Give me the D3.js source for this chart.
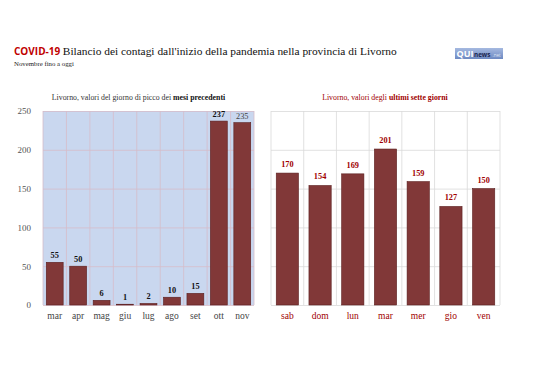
<!DOCTYPE html>
<html><head><meta charset="utf-8">
<script src="https://cdn.jsdelivr.net/npm/d3@7/dist/d3.min.js"></script>
<style>
html,body{margin:0;padding:0;background:#fff;}
svg{display:block;}
</style></head>
<body>
<svg id="chart" width="538" height="380"></svg>
<script>
// ---- data ----
const monthCats = ["mar","apr","mag","giu","lug","ago","set","ott","nov"];
const monthVals = [55, 50, 6, 1, 2, 10, 15, 237, 235];
const dayCats = ["sab","dom","lun","mar","mer","gio","ven"];
const dayVals = [170, 154, 169, 201, 159, 127, 150];
const yTicks = [0, 50, 100, 150, 200, 250];

(function () {
const svg = d3.select("#chart");
const serif = "'Liberation Serif','DejaVu Serif',serif";
const sans = "'Open Sans','Liberation Sans',Arial,sans-serif";
const barFill = "#813838", barStroke = "#5b1e1e";

// ---- title ----
const title = svg.append("text").attr("x", 14).attr("y", 55);
title.append("tspan").text("COVID-19 ")
  .style("font-family", sans).style("font-weight", "bold").style("font-size", "10px").attr("fill", "#c00000");
title.append("tspan").text("Bilancio dei contagi dall'inizio della pandemia nella provincia di Livorno")
  .style("font-family", serif).style("font-size", "11.4px").attr("fill", "#111");
svg.append("text").attr("x", 14).attr("y", 66).text("Novembre fino a oggi")
  .style("font-family", serif).style("font-size", "6.8px").attr("fill", "#222");

// ---- logo ----
const logo = svg.append("g").attr("transform", "translate(455,48)");
const grad = svg.append("defs").append("linearGradient").attr("id", "lg")
  .attr("x1", 0).attr("y1", 0).attr("x2", 0).attr("y2", 1);
grad.append("stop").attr("offset", 0).attr("stop-color", "#a5b9e0");
grad.append("stop").attr("offset", 1).attr("stop-color", "#6d89c2");
logo.append("rect").attr("width", 48).attr("height", 11).attr("fill", "url(#lg)");
logo.append("text").attr("x", 1.5).attr("y", 9.3).text("QUI")
  .style("font-family", sans).style("font-weight", "bold").style("font-size", "9px").attr("fill", "#fff");
logo.append("text").attr("x", 19).attr("y", 8.5).text("news")
  .style("font-family", sans).style("font-weight", "bold").style("font-size", "6.3px").attr("fill", "#1b2550");
logo.append("text").attr("x", 37.5).attr("y", 8.5).text(".net")
  .style("font-family", sans).style("font-size", "4.6px").attr("fill", "#dfe6f5");

// ---- shared scale ----
const yTop = 111, yBot = 305;
const y = d3.scaleLinear().domain([0, 250]).range([yBot, yTop]);

// ---- left panel ----
const L = {x0: 43, x1: 254};
const xL = d3.scaleBand().domain(monthCats).range([L.x0, L.x1]).padding(0);
const gL = svg.append("g");
gL.append("rect").attr("x", L.x0).attr("y", yTop).attr("width", L.x1 - L.x0).attr("height", yBot - yTop)
  .attr("fill", "#c9d7ef");
gL.append("g").attr("transform", `translate(${L.x0},0)`)
  .call(d3.axisLeft(y).tickValues(yTicks).tickSize(-(L.x1 - L.x0)).tickFormat(""))
  .call(g => g.select(".domain").remove())
  .selectAll("line").attr("stroke", "#d6bcc9").attr("stroke-width", 0.8);
gL.append("g").selectAll("line").data(monthCats.concat(["_end"])).join("line")
  .attr("x1", (d, i) => i < monthCats.length ? xL(d) : L.x1)
  .attr("x2", (d, i) => i < monthCats.length ? xL(d) : L.x1)
  .attr("y1", yTop).attr("y2", yBot).attr("stroke", "#d6bcc9").attr("stroke-width", 0.8);
gL.append("g").attr("transform", `translate(${L.x0 - 12},0)`)
  .call(d3.axisLeft(y).tickValues(yTicks).tickSize(0).tickPadding(0))
  .call(g => g.select(".domain").remove())
  .selectAll("text").style("font-family", serif).style("font-size", "9px").attr("fill", "#555");
const bwL = xL.bandwidth() * 0.72;
gL.append("g").selectAll("rect").data(monthVals).join("rect")
  .attr("x", (d, i) => xL(monthCats[i]) + (xL.bandwidth() - bwL) / 2)
  .attr("y", d => y(d)).attr("width", bwL).attr("height", d => yBot - y(d))
  .attr("fill", barFill).attr("stroke", barStroke).attr("stroke-width", 0.6);
gL.append("g").selectAll("text").data(monthVals).join("text")
  .attr("x", (d, i) => xL(monthCats[i]) + xL.bandwidth() / 2)
  .attr("y", d => y(d) - 4).attr("text-anchor", "middle").text(d => d)
  .style("font-family", serif).style("font-size", "8.3px")
  .style("font-weight", (d, i) => i === monthVals.length - 1 ? "normal" : "bold")
  .attr("fill", (d, i) => i === monthVals.length - 1 ? "#444" : "#111");
gL.append("g").attr("transform", `translate(0,${yBot})`)
  .call(d3.axisBottom(xL).tickSize(0).tickPadding(7))
  .call(g => g.select(".domain").remove())
  .selectAll("text").style("font-family", serif).style("font-size", "9.5px").attr("fill", "#444");
const stL = svg.append("text").attr("x", (L.x0 + L.x1) / 2 - 10).attr("y", 100).attr("text-anchor", "middle")
  .style("font-family", serif).style("font-size", "7.8px").attr("fill", "#333");
stL.append("tspan").text("Livorno, valori del giorno di picco dei ");
stL.append("tspan").text("mesi precedenti").style("font-weight", "bold").attr("fill", "#111");

// ---- right panel ----
const R = {x0: 271, x1: 500};
const xR = d3.scaleBand().domain(dayCats).range([R.x0, R.x1]).padding(0);
const gR = svg.append("g");
gR.append("g").attr("transform", `translate(${R.x0},0)`)
  .call(d3.axisLeft(y).tickValues(yTicks).tickSize(-(R.x1 - R.x0)).tickFormat(""))
  .call(g => g.select(".domain").remove())
  .selectAll("line").attr("stroke", "#d9d9d9").attr("stroke-width", 0.8);
gR.append("g").selectAll("line").data(dayCats.concat(["_end"])).join("line")
  .attr("x1", (d, i) => i < dayCats.length ? xR(d) : R.x1)
  .attr("x2", (d, i) => i < dayCats.length ? xR(d) : R.x1)
  .attr("y1", yTop).attr("y2", yBot).attr("stroke", "#d9d9d9").attr("stroke-width", 0.8);
const bwR = xR.bandwidth() * 0.68;
gR.append("g").selectAll("rect").data(dayVals).join("rect")
  .attr("x", (d, i) => xR(dayCats[i]) + (xR.bandwidth() - bwR) / 2)
  .attr("y", d => y(d)).attr("width", bwR).attr("height", d => yBot - y(d))
  .attr("fill", barFill).attr("stroke", barStroke).attr("stroke-width", 0.6);
gR.append("g").selectAll("text").data(dayVals).join("text")
  .attr("x", (d, i) => xR(dayCats[i]) + xR.bandwidth() / 2)
  .attr("y", d => y(d) - 6).attr("text-anchor", "middle").text(d => d)
  .style("font-family", serif).style("font-size", "8.3px").style("font-weight", "bold").attr("fill", "#a00000");
gR.append("g").attr("transform", `translate(0,${yBot})`)
  .call(d3.axisBottom(xR).tickSize(0).tickPadding(7))
  .call(g => g.select(".domain").remove())
  .selectAll("text").style("font-family", serif).style("font-size", "9.5px").attr("fill", "#a00000");
const stR = svg.append("text").attr("x", 385).attr("y", 100).attr("text-anchor", "middle")
  .style("font-family", serif).style("font-size", "7.8px").attr("fill", "#a00000");
stR.append("tspan").text("Livorno, valori degli ");
stR.append("tspan").text("ultimi sette giorni").style("font-weight", "bold");
})();
</script>
</body></html>
